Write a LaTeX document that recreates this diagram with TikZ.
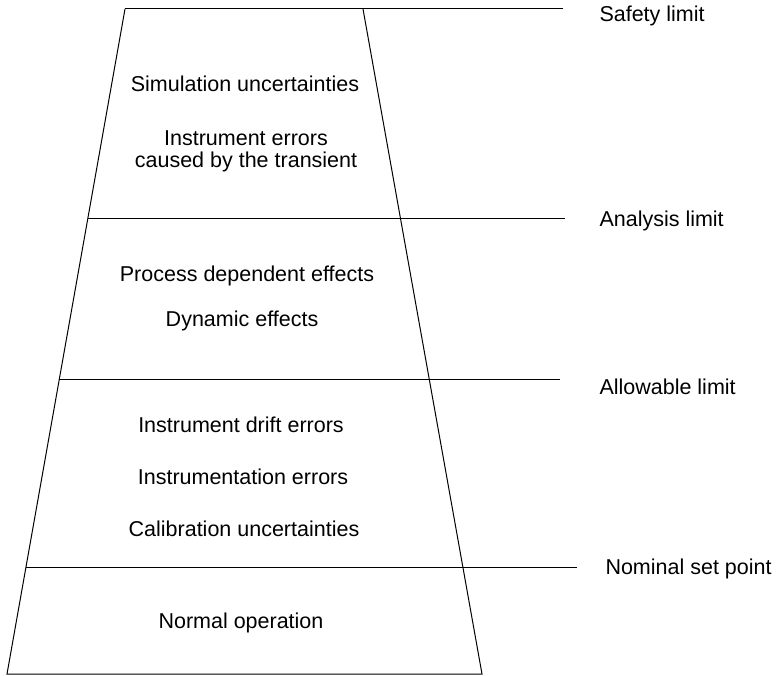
\documentclass[tikz,border=0pt]{standalone}
\usepackage{fontspec}
\setmainfont{Liberation Sans}
\usetikzlibrary{calc}

\begin{document}
\begin{tikzpicture}[x=1pt, y=-1pt, line width=1pt]
\tikzset{
  item/.style={inner sep=0pt, anchor=base, align=center,
                font=\fontsize{21.5}{22}\selectfont},
  limit/.style={inner sep=0pt, anchor=base west,
                font=\fontsize{21.5}{22}\selectfont}
  };

\def\lx{599}

\useasboundingbox (0,0) rectangle (777,676);

% corners of the trapezoid
\coordinate (TL) at (125,9);
\coordinate (TR) at (363,9);
\coordinate (BL) at (7,674);
\coordinate (BR) at (482,674);

\draw (TL) -- (BL) -- (BR) -- (TR);

% level lines
\coordinate (S2) at (563,9);
\coordinate (A1) at (88,219);  \coordinate (A2) at (565,219);
\coordinate (L1) at (59,380);  \coordinate (L2) at (560,380);
\coordinate (N1) at (26,567);  \coordinate (N2) at (577,567);

\draw (TL) -- (S2);
\draw (A1) -- (A2);
\draw (L1) -- (L2);
\draw (N1) -- (N2);

% limits
\node[limit] (safety)    at (\lx,22)  {Safety limit};
\node[limit] (analysis)  at (\lx,227) {Analysis limit};
\node[limit] (allowable) at (\lx,395) {Allowable limit};
\node[limit] (nominal)   at (605,574) {Nominal set point};

% contents of the layers (base = last line)
\node[item] (sim)   at (245,92)  {Simulation uncertainties};
\node[item] (instr) at (246,168) {Instrument errors\\caused by the transient};
\node[item] (proc)  at (247,282) {Process dependent effects};
\node[item] (dyn)   at (242,327) {Dynamic effects};
\node[item] (drift) at (241,432) {Instrument drift errors};
\node[item] (inst)  at (243,484) {Instrumentation errors};
\node[item] (calib) at (244,536) {Calibration uncertainties};
\node[item] (norm)  at (241,628) {Normal operation};

\end{tikzpicture}
\end{document}
